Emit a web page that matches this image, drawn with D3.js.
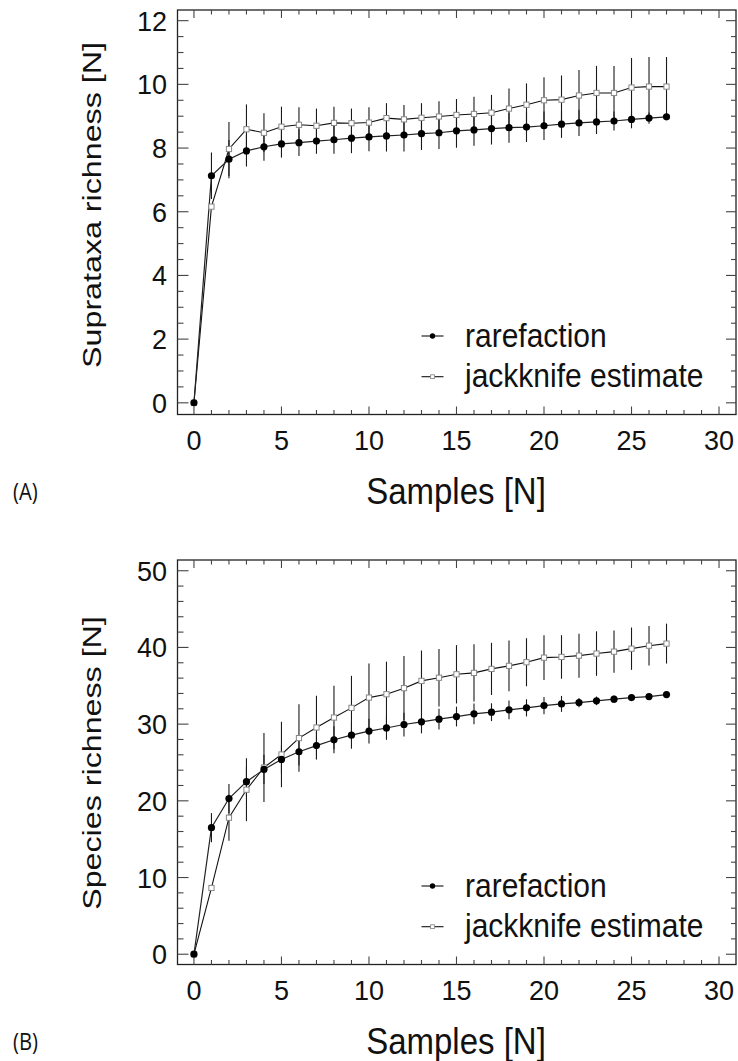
<!DOCTYPE html>
<html><head><meta charset="utf-8">
<script src="https://cdn.jsdelivr.net/npm/d3@7"></script>
<style>body{margin:0;background:#fff} svg{display:block}</style>
</head><body>
<svg id="c" width="738" height="1061"></svg>
<script>
// ---- data ----
const samples = [0,1,2,3,4,5,6,7,8,9,10,11,12,13,14,15,16,17,18,19,20,21,22,23,24,25,26,27];

const supraRare   = [0,7.13,7.65,7.91,8.04,8.13,8.17,8.22,8.26,8.31,8.35,8.38,8.41,8.45,8.48,8.54,8.57,8.61,8.64,8.66,8.70,8.75,8.79,8.82,8.85,8.90,8.94,8.98];
const supraRareSd = [0,0.73,0.60,0.49,0.44,0.43,0.42,0.40,0.44,0.47,0.45,0.49,0.52,0.51,0.51,0.53,0.50,0.50,0.47,0.47,0.45,0.43,0.41,0.38,0.30,0.28,0.18,0];
const supraJack   = [0,6.16,7.97,8.59,8.48,8.67,8.73,8.70,8.79,8.78,8.80,8.94,8.90,8.95,8.99,9.04,9.07,9.11,9.24,9.36,9.50,9.52,9.65,9.73,9.73,9.90,9.93,9.93];
const supraJackSd = [0,0,0.85,0.78,0.61,0.63,0.55,0.54,0.51,0.46,0.48,0.47,0.45,0.46,0.48,0.50,0.54,0.56,0.63,0.67,0.72,0.76,0.80,0.85,0.85,0.93,0.93,0.93];

const specRare   = [0,16.5,20.3,22.5,24.1,25.4,26.4,27.2,27.96,28.56,29.09,29.5,29.95,30.3,30.65,30.99,31.34,31.56,31.86,32.12,32.42,32.64,32.81,33.04,33.25,33.46,33.59,33.85];
const specRareSd = [0,1.9,1.9,1.9,1.9,1.85,1.8,1.8,1.76,1.76,1.6,1.54,1.55,1.5,1.35,1.29,1.34,1.16,1.21,1.12,1.12,1.04,0.61,0.56,0.48,0.35,0.35,0];
const specJack   = [0,8.64,17.8,21.45,24.35,26.04,28.18,29.56,30.86,32.12,33.46,33.9,34.69,35.64,36.05,36.5,36.68,37.2,37.6,38.07,38.67,38.76,38.93,39.2,39.45,39.84,40.23,40.5];
const specJackSd = [0,0,3.0,4.1,4.5,4.26,4.4,4.14,4.14,4.18,4.44,4.25,4.2,3.96,3.75,3.8,3.72,3.4,3.3,3.13,2.93,2.84,2.87,2.9,2.75,2.76,2.57,2.6];

const xTickLabels = [0,5,10,15,20,25,30];
const xMinorTicks = [0,1,2,3,4,5,6,7,8,9,10,11,12,13,14,15,16,17,18,19,20,21,22,23,24,25,26,27,28,29,30];
const supraYTicks = [0,2,4,6,8,10,12];
const supraYMinor = [0,0.5,1,1.5,2,2.5,3,3.5,4,4.5,5,5.5,6,6.5,7,7.5,8,8.5,9,9.5,10,10.5,11,11.5,12];
const specYTicks = [0,10,20,30,40,50];
const specYMinor = [0,2,4,6,8,10,12,14,16,18,20,22,24,26,28,30,32,34,36,38,40,42,44,46,48,50];

const seriesNames = ["rarefaction","jackknife estimate"];
const xTitle = "Samples [N]";

// ---- drawing ----
const svg = d3.select("#c");
const FONT = "'Liberation Sans', Arial, Helvetica, sans-serif";

function panel(cfg){
  const L = 177.5, R = 736, T = cfg.top, B = cfg.top + 404.5;
  const x = d3.scaleLinear().domain([-0.94, 30.97]).range([L, R]);
  const y = d3.scaleLinear().domain(cfg.yDomain).range([B, T]);
  const g = svg.append("g");

  // frame
  g.append("rect").attr("x", L).attr("y", T).attr("width", R-L).attr("height", B-T)
    .attr("fill","none").attr("stroke","#222").attr("stroke-width",1.3);

  const tk = g.append("g").attr("stroke","#444").attr("stroke-width",1.1);
  xMinorTicks.forEach(v=>{
    const major = xTickLabels.includes(v);
    const len = major ? 8 : 4.5;
    tk.append("line").attr("x1",x(v)).attr("x2",x(v)).attr("y1",B).attr("y2",B-len);
    tk.append("line").attr("x1",x(v)).attr("x2",x(v)).attr("y1",T).attr("y2",T+len);
  });
  cfg.yMinor.forEach(v=>{
    const major = cfg.yTicks.includes(v);
    const len = major ? 11 : 6;
    tk.append("line").attr("x1",L).attr("x2",L+len).attr("y1",y(v)).attr("y2",y(v));
    tk.append("line").attr("x1",R).attr("x2",R-len+1).attr("y1",y(v)).attr("y2",y(v));
  });

  // tick labels
  xTickLabels.forEach(v=>{
    g.append("text").attr("x",x(v)).attr("y",B+35).attr("text-anchor","middle")
      .attr("font-family",FONT).attr("font-size",27).attr("fill","#111").text(v);
  });
  cfg.yTicks.forEach(v=>{
    g.append("text").attr("x",167).attr("y",y(v)+10).attr("text-anchor","end")
      .attr("font-family",FONT).attr("font-size",27).attr("fill","#111").text(v);
  });

  // axis titles
  g.append("text").attr("transform",`translate(456,${B+89}) scale(1,1.1)`).attr("text-anchor","middle")
    .attr("font-family",FONT).attr("font-size",33).attr("fill","#111").text(xTitle);
  g.append("text").attr("transform",`translate(101,${cfg.yTitleCenter}) rotate(-90) scale(1.24,1)`)
    .attr("text-anchor","middle").attr("font-family",FONT).attr("font-size",26).attr("fill","#111").text(cfg.yTitle);

  // panel label
  g.append("text").attr("transform",`translate(13,${B+85}) scale(0.92,1.05)`).attr("font-family","'Open Sans', sans-serif")
    .attr("font-size",22).attr("fill","#111").text(cfg.label);

  // error bars
  const eb = g.append("g").attr("stroke","#1a1a1a").attr("stroke-width",1.1);
  samples.forEach((s,i)=>{
    if (cfg.jackSd[i] > 0)
      eb.append("line").attr("x1",x(s)).attr("x2",x(s))
        .attr("y1",y(cfg.jack[i]-cfg.jackSd[i])).attr("y2",y(cfg.jack[i]+cfg.jackSd[i]));
    if (cfg.rareSd[i] > 0)
      eb.append("line").attr("x1",x(s)).attr("x2",x(s))
        .attr("y1",y(cfg.rare[i]-cfg.rareSd[i])).attr("y2",y(cfg.rare[i]+cfg.rareSd[i]));
  });

  const line = d3.line().x((d,i)=>x(samples[i])).y(d=>y(d));
  g.append("path").attr("d",line(cfg.jack)).attr("fill","none").attr("stroke","#111").attr("stroke-width",1.1);
  g.append("path").attr("d",line(cfg.rare)).attr("fill","none").attr("stroke","#222").attr("stroke-width",1.2);

  // markers
  g.append("g").selectAll("rect").data(cfg.jack).join("rect")
    .attr("x",(d,i)=>x(samples[i])-2.6).attr("y",d=>y(d)-2.6).attr("width",5.2).attr("height",5.2)
    .attr("fill","#fff").attr("stroke","#888").attr("stroke-width",1);
  g.append("g").selectAll("circle").data(cfg.rare).join("circle")
    .attr("cx",(d,i)=>x(samples[i])).attr("cy",d=>y(d)).attr("r",3.6).attr("fill","#000");

  // legend
  const ly1 = T + 326, ly2 = T + 366.7;
  g.append("line").attr("x1",421.5).attr("x2",443.5).attr("y1",ly1).attr("y2",ly1).attr("stroke","#111").attr("stroke-width",1.1);
  g.append("circle").attr("cx",432.5).attr("cy",ly1).attr("r",2.7).attr("fill","#000");
  g.append("line").attr("x1",421.5).attr("x2",443.5).attr("y1",ly2).attr("y2",ly2).attr("stroke","#111").attr("stroke-width",1.1);
  g.append("rect").attr("x",432.5-1.9).attr("y",ly2-1.9).attr("width",3.8).attr("height",3.8)
    .attr("fill","#fff").attr("stroke","#888").attr("stroke-width",0.9);
  g.append("text").attr("transform",`translate(465,${T+337}) scale(1,1.08)`).attr("font-family",FONT)
    .attr("font-size",30).attr("fill","#111").text(seriesNames[0]);
  g.append("text").attr("transform",`translate(465,${T+377}) scale(1,1.08)`).attr("font-family",FONT)
    .attr("font-size",30).attr("fill","#111").text(seriesNames[1]);
}

panel({top:10, yDomain:[-0.367,12.335], yTicks:supraYTicks, yMinor:supraYMinor,
  rare:supraRare, rareSd:supraRareSd, jack:supraJack, jackSd:supraJackSd,
  yTitle:"Suprataxa richness [N]", yTitleCenter:205, label:"(A)"});
panel({top:560, yDomain:[-1.34,51.4], yTicks:specYTicks, yMinor:specYMinor,
  rare:specRare, rareSd:specRareSd, jack:specJack, jackSd:specJackSd,
  yTitle:"Species richness [N]", yTitleCenter:763, label:"(B)"});
</script>
</body></html>
